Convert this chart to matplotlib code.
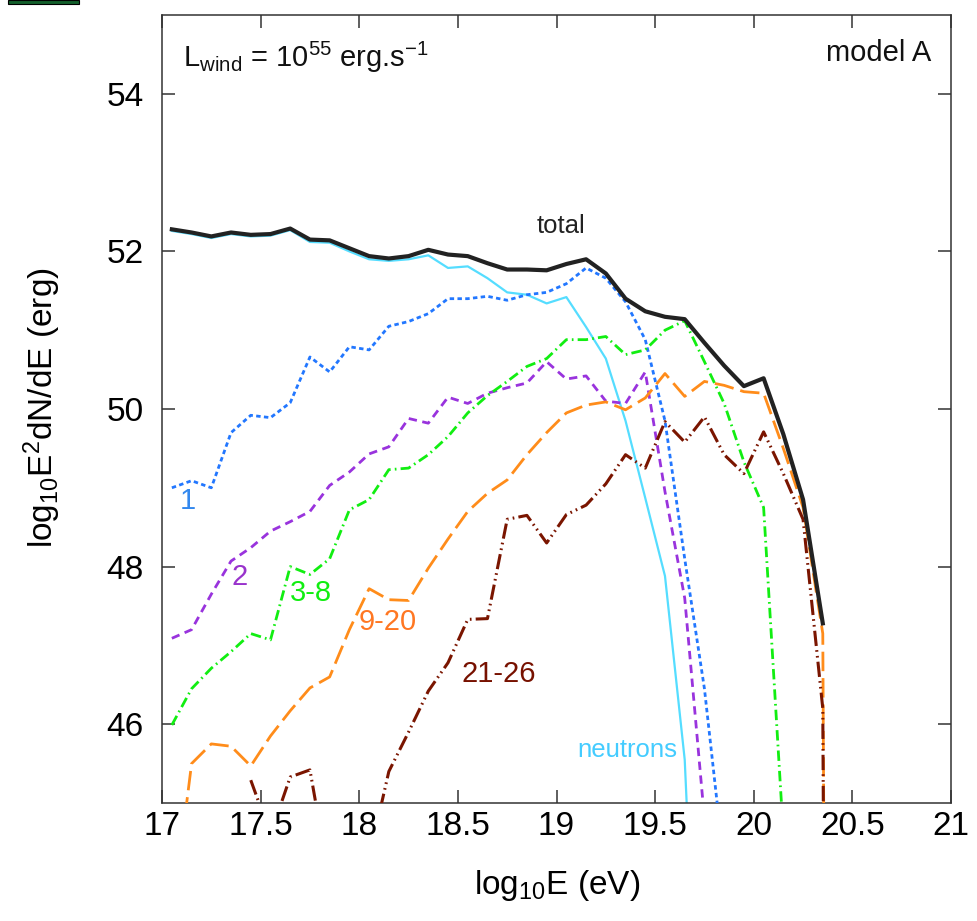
import numpy as np
import matplotlib
matplotlib.use("Agg")
import matplotlib.pyplot as plt
from matplotlib.patches import Rectangle

nan = np.nan

# log10 energy bins (eV)
log_e = [17.05, 17.15, 17.25, 17.35, 17.45, 17.55, 17.65, 17.75, 17.85, 17.95,
         18.05, 18.15, 18.25, 18.35, 18.45, 18.55, 18.65, 18.75, 18.85, 18.95,
         19.05, 19.15, 19.25, 19.35, 19.45, 19.55, 19.65, 19.75, 19.85, 19.95,
         20.05, 20.15, 20.25, 20.35, 20.45]

# log10 E^2 dN/dE (erg)
total = [52.28, 52.24, 52.19, 52.24, 52.21, 52.22, 52.29, 52.15, 52.14, 52.04,
         51.94, 51.91, 51.94, 52.02, 51.96, 51.94, 51.85, 51.77, 51.77, 51.76,
         51.84, 51.90, 51.72, 51.40, 51.24, 51.17, 51.14, 50.84, 50.55, 50.29,
         50.39, 49.68, 48.85, 47.28, nan]
neutrons = [52.26, 52.22, 52.17, 52.22, 52.19, 52.20, 52.27, 52.12, 52.11, 52.00,
            51.90, 51.88, 51.90, 51.95, 51.79, 51.81, 51.66, 51.48, 51.45, 51.34,
            51.42, 51.04, 50.64, 49.85, 48.87, 47.88, 45.55, 40.0, nan, nan,
            nan, nan, nan, nan, nan]
z1 = [49.00, 49.09, 49.00, 49.70, 49.92, 49.89, 50.08, 50.66, 50.47, 50.79,
      50.75, 51.05, 51.11, 51.21, 51.40, 51.40, 51.43, 51.38, 51.45, 51.48,
      51.59, 51.79, 51.66, 51.36, 50.88, 49.85, 48.10, 46.45, 44.20, nan,
      nan, nan, nan, nan, nan]
z2 = [47.09, 47.20, 47.65, 48.07, 48.24, 48.45, 48.57, 48.70, 49.03, 49.20,
      49.43, 49.52, 49.88, 49.82, 50.15, 50.07, 50.20, 50.27, 50.33, 50.60,
      50.38, 50.42, 50.10, 50.07, 50.47, 48.95, 47.60, 44.80, nan, nan,
      nan, nan, nan, nan, nan]
z3_8 = [45.99, 46.45, 46.71, 46.92, 47.15, 47.07, 48.00, 47.90, 48.10, 48.72,
        48.85, 49.23, 49.25, 49.42, 49.65, 49.95, 50.17, 50.35, 50.54, 50.64,
        50.88, 50.88, 50.92, 50.69, 50.75, 51.00, 51.12, 50.60, 50.07, 49.33,
        48.75, 44.60, nan, nan, nan]
z9_20 = [43.50, 45.50, 45.75, 45.72, 45.47, 45.85, 46.17, 46.46, 46.60, 47.20,
         47.72, 47.58, 47.57, 47.98, 48.35, 48.70, 48.93, 49.10, 49.42, 49.70,
         49.95, 50.05, 50.09, 49.99, 50.14, 50.45, 50.16, 50.35, 50.30, 50.22,
         50.20, 49.50, 48.75, 47.15, 0.0]
z21_26 = [nan, nan, nan, nan, 45.29, 44.60, 45.33, 45.42, 44.00, 43.80,
          44.30, 45.40, 45.90, 46.42, 46.78, 47.33, 47.34, 48.60, 48.65, 48.30,
          48.66, 48.78, 49.05, 49.42, 49.25, 49.84, 49.58, 49.90, 49.42, 49.18,
          49.71, 49.18, 48.60, 46.20, 0.0]

plt.rcParams.update({
    'font.family': 'Liberation Sans',
    'mathtext.fontset': 'custom',
    'mathtext.rm': 'Liberation Sans',
    'mathtext.it': 'Liberation Sans',
    'lines.scale_dashes': False,
})

fig = plt.figure(figsize=(9.77, 9.21), dpi=100)
ax = fig.add_axes([162 / 977, 1 - 803 / 921, 789 / 977, 788 / 921])

ax.plot(log_e, neutrons, color='#55ddff', lw=1.6, zorder=2)
ax.plot(log_e, z1, color='#2277ff', lw=2.0, dashes=(3.2, 2.4), zorder=3)
ax.plot(log_e, z2, color='#9933dd', lw=2.0, dashes=(6, 4), zorder=3)
ax.plot(log_e, z3_8, color='#11ee11', lw=2.0, dashes=(7.5, 3, 1.2, 3), zorder=3)
ax.plot(log_e, z9_20, color='#ff8c1a', lw=2.0, dashes=(14, 5), zorder=3)
ax.plot(log_e, z21_26, color='#7a1500', lw=2.2, dashes=(11, 3, 1.2, 3, 1.2, 3), zorder=3)
ax.plot(log_e, total, color='#222222', lw=3.0, zorder=4)

ax.set_xlim(17, 21)
ax.set_ylim(45, 55)
ax.set_xticks([17, 17.5, 18, 18.5, 19, 19.5, 20, 20.5, 21])
ax.set_xticklabels(['17', '17.5', '18', '18.5', '19', '19.5', '20', '20.5', '21'])
ax.set_yticks([46, 48, 50, 52, 54])
ax.tick_params(direction='in', length=9.5, width=1.1, color='#333333',
               top=True, right=True, labelsize=24)
ax.tick_params(axis='y', pad=13)
ax.tick_params(axis='x', pad=6)
for s in ax.spines.values():
    s.set_linewidth(1.1)
    s.set_color('#333333')

# curve labels
ax.text(17.13, 48.83, '1', color='#3388ee', fontsize=21, ha='center', va='center')
ax.text(17.395, 47.87, '2', color='#9933cc', fontsize=21, ha='center', va='center')
ax.text(17.755, 47.66, '3-8', color='#11ee11', fontsize=21, ha='center', va='center')
ax.text(18.143, 47.30, '9-20', color='#ff7722', fontsize=21, ha='center', va='center')
ax.text(18.705, 46.64, '21-26', color='#771100', fontsize=21, ha='center', va='center')
ax.text(19.36, 45.59, 'neutrons', color='#44ccff', fontsize=18.5, ha='center', va='baseline')
ax.text(19.025, 52.23, 'total', color='#222222', fontsize=18.5, ha='center', va='baseline')
ax.text(20.9, 54.42, 'model A', color='#111111', fontsize=21, ha='right', va='baseline')
ax.text(17.105, 54.34,
        r'L$_{\mathregular{wind}}$ = 10$^{\mathregular{55}}$ erg.s$^{\mathregular{-1}}$',
        color='#111111', fontsize=21, ha='left', va='baseline')

fig.text(42 / 977, 1 - 408 / 921, r'$\mathregular{log_{10}E^2dN/dE\ (erg)}$',
         rotation=90, fontsize=24, ha='center', va='center')
fig.text(557 / 977, 1 - 885 / 921, r'$\mathregular{log_{10}E\ (eV)}$',
         fontsize=24, ha='center', va='center')

# small dark-green tab at the top-left corner of the original image
fig.patches.append(Rectangle((8 / 977, 1 - 4 / 921), 71 / 977, 4 / 921,
                             transform=fig.transFigure, facecolor='#135f2b',
                             edgecolor='black', lw=0.8))

fig.savefig('out.png', dpi=100)
